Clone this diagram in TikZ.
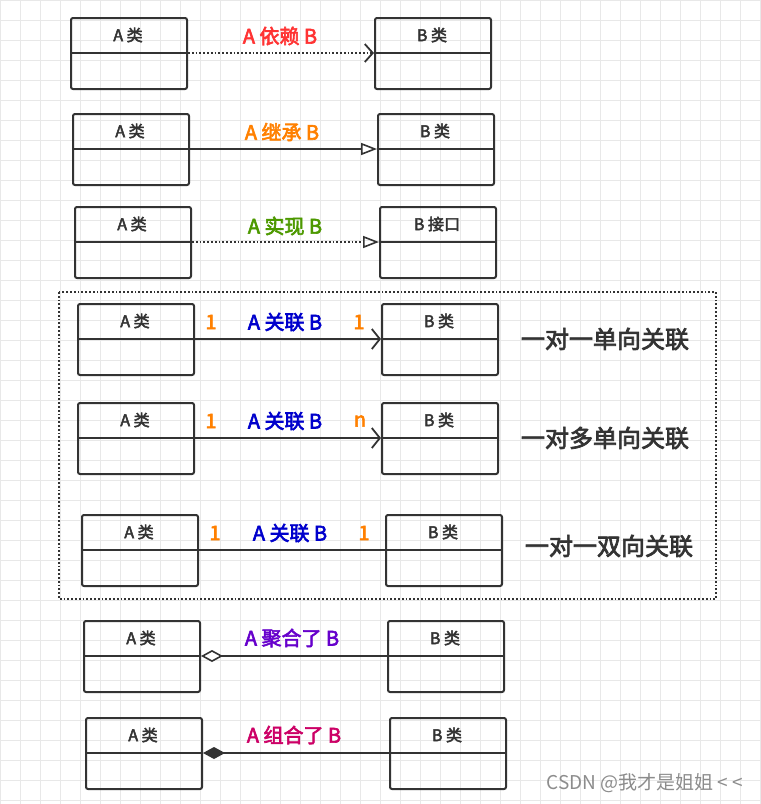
\documentclass[tikz,border=0pt]{standalone}
\usepackage{fontspec}
\setmainfont[AutoFakeBold=3]{Noto Sans CJK SC}
\usetikzlibrary{arrows.meta}
\definecolor{cred}{HTML}{FF3333}
\definecolor{corange}{HTML}{FF8000}
\definecolor{cgreen}{HTML}{4D9900}
\definecolor{cblue}{HTML}{0000CC}
\definecolor{cpurple}{HTML}{6600CC}
\definecolor{cmag}{HTML}{CC0066}
\definecolor{cline}{HTML}{333333}
\begin{document}
\begin{tikzpicture}[x=1pt,y=-1pt,
  cls/.style={draw=cline,line width=2pt,rounded corners=2pt,minimum width=116pt,minimum height=71pt,inner sep=0pt},
  ttl/.style={font=\bfseries\fontsize{16}{18}\selectfont,text=cline},
  lab/.style={font=\bfseries\fontsize{20}{22}\selectfont},
  big/.style={font=\bfseries\fontsize{24}{26}\selectfont,text=cline},
  con/.style={draw=cline,line width=1.8pt}]
\useasboundingbox (0,0) rectangle (761,804);
\fill[white] (0,0) rectangle (761,804);
\begin{scope}
\clip (0,0) rectangle (761,804);
\foreach \i in {0,20,...,800} {\draw[black!9,line width=0.6pt] (\i,0) -- (\i,804); \draw[black!9,line width=0.6pt] (0,\i) -- (761,\i);}
\end{scope}
\newcommand\cbox[4]{%
  \node[cls,anchor=north west] (#1) at (#2,#3) {};
  \draw[cline,line width=2pt] (#1.west|-0,#3+36) -- (#1.east|-0,#3+36);
  \node[ttl] at (#2+58,#3+18) {#4};
  \coordinate (#1m) at (#2,#3+36);}
\cbox{a1}{70}{17}{A 类}
\cbox{b1}{374}{17}{B 类}
\cbox{a2}{72}{113}{A 类}
\cbox{b2}{377}{113}{B 类}
\cbox{a3}{74}{206}{A 类}
\cbox{b3}{379}{206}{B 接口}
\cbox{a4}{77}{303}{A 类}
\cbox{b4}{381}{303}{B 类}
\cbox{a5}{77}{402}{A 类}
\cbox{b5}{381}{402}{B 类}
\cbox{a6}{81}{514}{A 类}
\cbox{b6}{385}{514}{B 类}
\cbox{a7}{83}{620}{A 类}
\cbox{b7}{387}{620}{B 类}
\cbox{a8}{85}{717}{A 类}
\cbox{b8}{389}{717}{B 类}
\draw[con,dotted,-{Straight Barb[length=8pt,width=18pt,line width=1.8pt]}] (a1.east|-a1m) -- (b1.west|-a1m);
\draw[con,-{Triangle[open,length=16pt,width=12pt,line width=1.6pt]}] (a2.east|-a2m) -- (b2.west|-a2m);
\draw[con,dotted,-{Triangle[open,length=16pt,width=12pt,line width=1.6pt]}] (a3.east|-a3m) -- (b3.west|-a3m);
\draw[con,-{Straight Barb[length=8pt,width=20pt,line width=1.8pt]}] (a4.east|-a4m) -- (b4.west|-a4m);
\draw[con,-{Straight Barb[length=8pt,width=20pt,line width=1.8pt]}] (a5.east|-a5m) -- (b5.west|-a5m);
\draw[con] (a6.east|-a6m) -- (b6.west|-a6m);
\draw[con,{Diamond[open,length=22pt,width=12pt,line width=1.6pt]}-] (a7.east|-a7m) -- (b7.west|-a7m);
\draw[con,{Diamond[length=22pt,width=12pt]}-] (a8.east|-a8m) -- (b8.west|-a8m);
\node[lab,text=cred] (l1) at (280,36) {A 依赖 B};
\node[lab,text=corange] (l2) at (282,132) {A 继承 B};
\node[lab,text=cgreen] (l3) at (285,226) {A 实现 B};
\node[lab,text=cblue] (l4) at (285,322) {A 关联 B};
\node[lab,text=cblue] (l5) at (285,421) {A 关联 B};
\node[lab,text=cblue] (l6) at (290,533) {A 关联 B};
\node[lab,text=cpurple] (l7) at (292,638) {A 聚合了 B};
\node[lab,text=cmag] (l8) at (294,735) {A 组合了 B};
\node[lab,text=corange] (m1) at (211,322) {1};
\node[lab,text=corange] (m2) at (359,322) {1};
\node[lab,text=corange] (m3) at (211,421) {1};
\node[lab,text=corange] (m4) at (360,421) {n};
\node[lab,text=corange] (m5) at (215,533) {1};
\node[lab,text=corange] (m6) at (364,533) {1};
\draw[cline,line width=1.8pt,dotted] (59,292) rectangle (716,599);
\node[big] (t1) at (605,339) {一对一单向关联};
\node[big] (t2) at (605,438) {一对多单向关联};
\node[big] (t3) at (609,546) {一对一双向关联};
\node[text=black!45,font=\fontsize{19}{21}\selectfont] (wm) at (645,783) {CSDN @我才是姐姐 < <};
\end{tikzpicture}
\end{document}
